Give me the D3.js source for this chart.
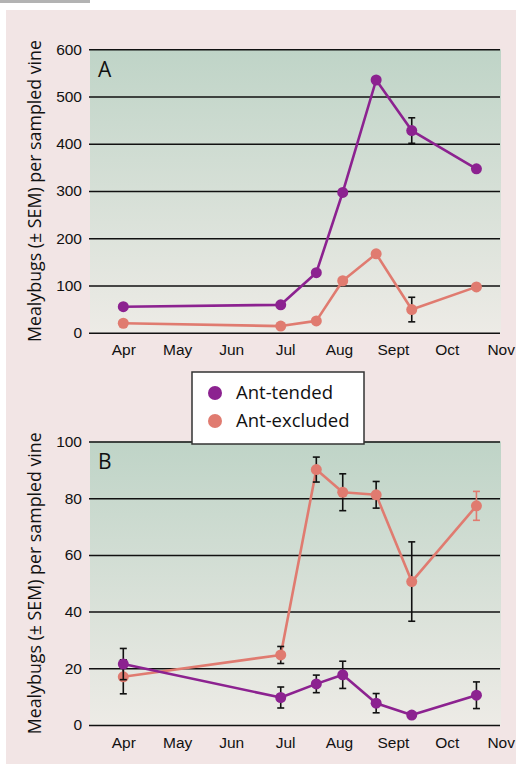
<!DOCTYPE html>
<html>
<head>
<meta charset="utf-8">
<script src="https://cdn.jsdelivr.net/npm/d3@7"></script>
<style>
  body { margin: 0; background: #fff; }
  svg { display: block; font-family: "Open Sans", "Noto Sans", sans-serif; }
</style>
</head>
<body>
<svg id="chart" width="516" height="773"></svg>
<script>
// month labels along the bottom, sampling dates as month offsets from Apr
const monthLabels = ["Apr", "May", "Jun", "Jul", "Aug", "Sept", "Oct", "Nov"];
const sampleMonths = [0, 2.92, 3.58, 4.07, 4.69, 5.35, 6.55];

// panel A
const ticksA = [0, 100, 200, 300, 400, 500, 600];
const tendedA = [55, 59, 127, 297, 535, 428, 347];
const tendedAErr = [0, 0, 0, 0, 0, 27, 0];
const excludedA = [20, 14, 25, 110, 167, 49, 97];
const excludedAErr = [0, 0, 0, 0, 0, 26, 0];

// panel B
const ticksB = [0, 20, 40, 60, 80, 100];
const tendedB = [21.5, 9.7, 14.5, 17.7, 7.7, 3.5, 10.5];
const tendedBErr = [5.5, 3.7, 3.1, 4.8, 3.4, 0, 4.7];
const excludedB = [17, 24.7, 90.1, 82.1, 81.2, 50.6, 77.3];
const excludedBErr = [6, 3, 4.4, 6.5, 4.7, 14, 5.1];

const legendItems = ["Ant-tended", "Ant-excluded"];

const PURPLE = "#8c2290";
const SALMON = "#e07b70";

const svg = d3.select("#chart");

svg.append("rect").attr("x", 0).attr("y", 0).attr("width", 90).attr("height", 3).attr("fill", "#b3b3b3");
svg.append("rect").attr("x", 6).attr("y", 10).attr("width", 510).attr("height", 754).attr("fill", "#f2e5e5");

const defs = svg.append("defs");
const grad = defs.append("linearGradient").attr("id", "bg").attr("x1", 0).attr("y1", 0).attr("x2", 0).attr("y2", 1);
grad.append("stop").attr("offset", "0%").attr("stop-color", "#bfd4c7");
grad.append("stop").attr("offset", "100%").attr("stop-color", "#edebe6");

const x = d3.scaleLinear().domain([0, 7]).range([123.3, 500.7]);

function panel({ top, bottom, yMax, ticks, label, series }) {
  const y = d3.scaleLinear().domain([0, yMax]).range([bottom, top]);
  const g = svg.append("g");

  g.append("rect")
    .attr("x", 90).attr("y", top)
    .attr("width", 411).attr("height", bottom - top)
    .attr("fill", "url(#bg)");

  // gridlines + y labels
  const yAxis = g.append("g")
    .attr("transform", "translate(89,0)")
    .call(d3.axisLeft(y).tickValues(ticks).tickSize(-411).tickPadding(7).tickFormat(d3.format("d")));
  yAxis.select(".domain").remove();
  yAxis.selectAll(".tick line").attr("stroke", "#111").attr("stroke-width", 1.5);
  yAxis.selectAll(".tick text").attr("font-size", 15.5).attr("fill", "#111");

  const xAxis = g.append("g")
    .attr("transform", `translate(0,${bottom})`)
    .call(d3.axisBottom(x).tickValues(d3.range(monthLabels.length)).tickSize(0).tickPadding(11.5)
      .tickFormat(i => monthLabels[i]));
  xAxis.select(".domain").remove();
  xAxis.selectAll(".tick text").attr("font-size", 15.5).attr("fill", "#111");

  g.append("text")
    .attr("x", 98).attr("y", top + 27.5)
    .attr("font-size", 21).attr("fill", "#111")
    .text(label);

  g.append("text")
    .attr("transform", `translate(41,${(top + bottom) / 2}) rotate(-90)`)
    .attr("text-anchor", "middle")
    .attr("font-size", 17.8).attr("fill", "#111")
    .text("Mealybugs (\u00b1 SEM) per sampled vine");

  const line = d3.line().x(d => x(d.m)).y(d => y(d.v));

  series.forEach(s => {
    const pts = sampleMonths.map((m, i) => ({ m, v: s.values[i], e: s.errs[i], i }));
    const sg = g.append("g");
    sg.append("path")
      .datum(pts)
      .attr("d", line)
      .attr("fill", "none")
      .attr("stroke", s.color)
      .attr("stroke-width", 2.6)
      .attr("stroke-linejoin", "round");

    const eb = sg.selectAll(".err")
      .data(pts.filter(d => d.e > 0))
      .join("g")
      .attr("stroke", d => (s.errColor && s.errColor(d)) || "#111")
      .attr("stroke-width", 1.6);
    eb.append("line")
      .attr("x1", d => x(d.m)).attr("x2", d => x(d.m))
      .attr("y1", d => y(d.v - d.e)).attr("y2", d => y(d.v + d.e));
    eb.append("line")
      .attr("x1", d => x(d.m) - 3.5).attr("x2", d => x(d.m) + 3.5)
      .attr("y1", d => y(d.v - d.e)).attr("y2", d => y(d.v - d.e));
    eb.append("line")
      .attr("x1", d => x(d.m) - 3.5).attr("x2", d => x(d.m) + 3.5)
      .attr("y1", d => y(d.v + d.e)).attr("y2", d => y(d.v + d.e));

    sg.selectAll("circle")
      .data(pts)
      .join("circle")
      .attr("cx", d => x(d.m))
      .attr("cy", d => y(d.v))
      .attr("r", 5.5)
      .attr("fill", s.color);
  });
}

panel({
  top: 49.3, bottom: 332.7, yMax: 600, ticks: ticksA, label: "A",
  series: [
    { values: excludedA, errs: excludedAErr, color: SALMON },
    { values: tendedA, errs: tendedAErr, color: PURPLE }
  ]
});

panel({
  top: 441.5, bottom: 725, yMax: 100, ticks: ticksB, label: "B",
  series: [
    { values: excludedB, errs: excludedBErr, color: SALMON, errColor: d => d.i === sampleMonths.length - 1 ? SALMON : null },
    { values: tendedB, errs: tendedBErr, color: PURPLE }
  ]
});

// legend
const legend = svg.append("g");
legend.append("rect")
  .attr("x", 192).attr("y", 372).attr("width", 172).attr("height", 72)
  .attr("fill", "#fff").attr("stroke", "#333").attr("stroke-width", 1.5);
const li = legend.selectAll(".li")
  .data(legendItems)
  .join("g")
  .attr("transform", (d, i) => `translate(0,${393 + i * 28})`);
li.append("circle").attr("cx", 215).attr("cy", 0).attr("r", 7)
  .attr("fill", (d, i) => i === 0 ? PURPLE : SALMON);
li.append("text").attr("x", 236).attr("y", 6)
  .attr("font-size", 18.5).attr("fill", "#111")
  .text(d => d);
</script>
</body>
</html>
